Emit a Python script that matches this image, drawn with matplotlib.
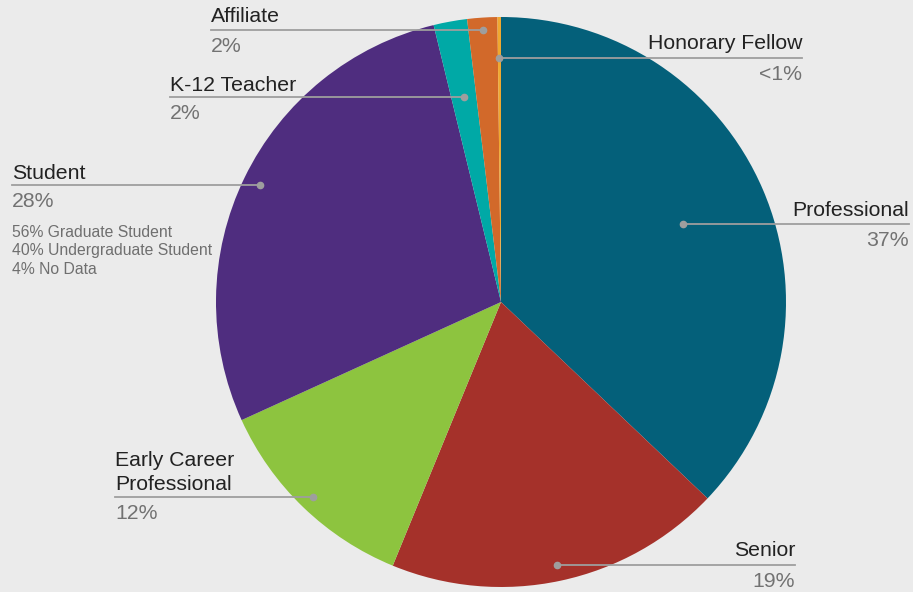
import numpy as np
import matplotlib.pyplot as plt

# slice data, clockwise from 12 o'clock
categories = ["Professional", "Senior", "Early Career\nProfessional", "Student",
              "K-12 Teacher", "Affiliate", "Honorary Fellow"]
shares = [37.1, 19.1, 12.0, 28.0, 1.9, 1.7, 0.2]
pct_labels = ["37%", "19%", "12%", "28%", "2%", "2%", "<1%"]
colors = ["#04607a", "#a5312a", "#8dc43f", "#4f2d7f", "#00a9a6", "#d2692a", "#f0a830"]
student_breakdown = ["56% Graduate Student", "40% Undergraduate Student", "4% No Data"]

# label layout in screen pixels (y measured from the top): text x, alignment, name baseline, line y
label_x = [909, 795, 115, 12, 170, 211, 802]
label_ha = ["right", "right", "left", "left", "left", "left", "right"]
name_y = [216, 556, 490, 179, 91, 22, 49]
line_y = [224, 565, 497, 185, 97, 30, 58]

W, H = 913, 592
cx, cy, R = 501, H - 302, 285

fig = plt.figure(figsize=(W / 100, H / 100), dpi=100, facecolor="#ebebeb")
ax = fig.add_axes([0, 0, 1, 1])
ax.set_facecolor("#ebebeb")
ax.axis("off")

wedges, _ = ax.pie(shares, colors=colors, startangle=90, counterclock=False,
                   center=(cx, cy), radius=R, wedgeprops=dict(linewidth=0))
ax.set_xlim(0, W)
ax.set_ylim(0, H)
ax.set_aspect("equal")

font = ["Liberation Sans", "DejaVu Sans"]
total = sum(shares)
cum = 0
for i, s in enumerate(shares):
    mid = np.deg2rad((cum + s / 2) / total * 360)
    cum += s
    ly = H - line_y[i]
    t = (ly - cy) / np.cos(mid)
    dx = cx + t * np.sin(mid)
    ax.plot([label_x[i], dx], [ly, ly], color="#9e9e9e", lw=1.3, zorder=3)
    ax.plot(dx, ly, "o", color="#9e9e9e", ms=4.5, zorder=4)
    ax.text(label_x[i], H - name_y[i], categories[i], ha=label_ha[i], va="baseline",
            fontsize=15.3, color="#222222", family=font, linespacing=1.3)
    ax.text(label_x[i], ly - 22, pct_labels[i], ha=label_ha[i], va="baseline",
            fontsize=15.3, color="#727272", family=font)

# student breakdown
for j, line in enumerate(student_breakdown):
    ax.text(12, H - 237 - j * 18.5, line, ha="left", va="baseline",
            fontsize=11.3, color="#6f6f6f", family=font)

fig.savefig("out.png", dpi=100, facecolor=fig.get_facecolor())
